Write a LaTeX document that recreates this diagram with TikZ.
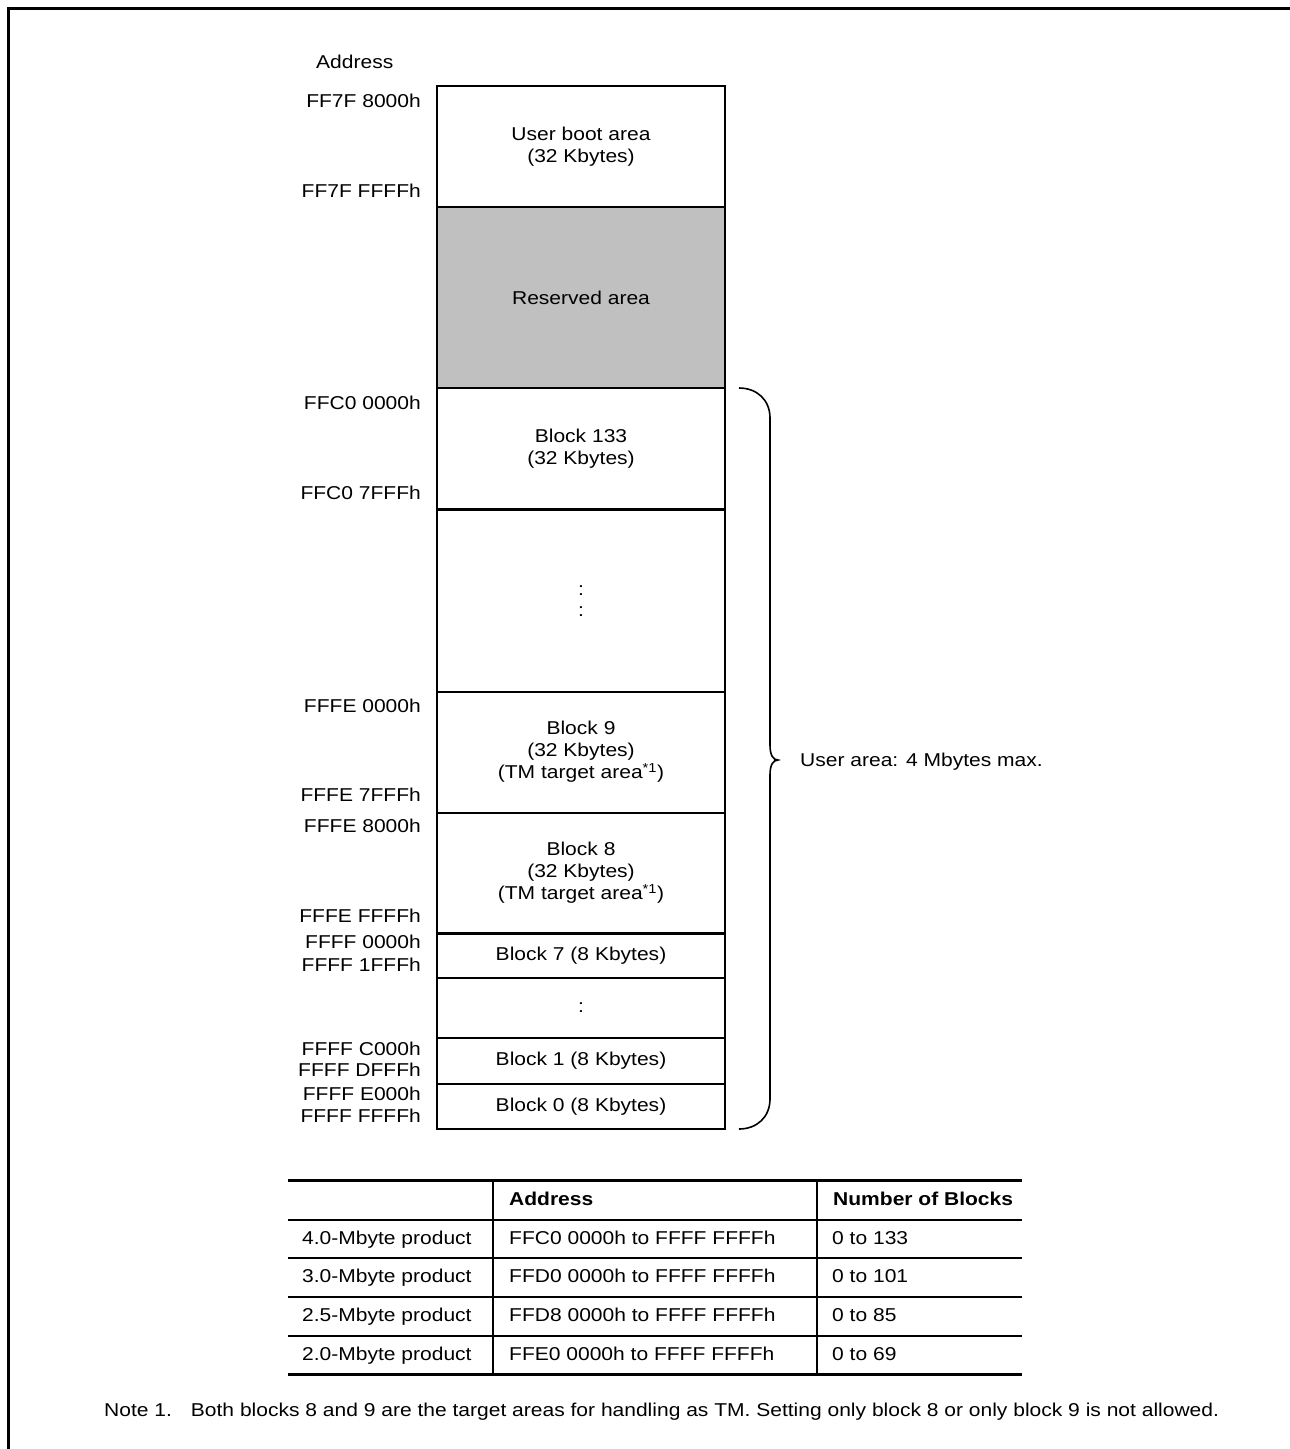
\documentclass[tikz,border=0pt]{standalone}
\usepackage{fontspec}
\setmainfont[FakeStretch=1.13]{Liberation Sans}
\definecolor{resgray}{RGB}{192,192,192}
\begin{document}
\begin{tikzpicture}[x=1pt,y=-1pt,
  every node/.style={font=\fontsize{18.6}{22}\selectfont, inner sep=0pt},
  region/.style={draw, line width=2pt, minimum width=288pt, inner sep=0pt, align=center},
  addr/.style={anchor=base east},
  lbl/.style={anchor=base west},
  hdr/.style={anchor=base west, font=\fontsize{18.6}{22}\selectfont\bfseries},
  rule/.style={line width=1.8pt},
  thickrule/.style={line width=3pt},
  bracestyle/.style={line width=1.6pt}]
\useasboundingbox (0,0) rectangle (1290,1449);
% frame
\draw[line width=3.6pt] (8.5,1460) -- (8.5,8.5) -- (1300,8.5);

% memory map
\node[lbl] (addrhead) at (316,68.7) {Address};
\node[region, minimum height=121pt] (boot) at (581,146.5) {User boot area\\(32 Kbytes)};
\node[region, minimum height=181pt, fill=resgray] (reserved) at (581,297.5) {Reserved area};
\node[region, minimum height=121pt] (b133) at (581,448.5) {Block 133\\(32 Kbytes)};
\node[region, minimum height=181.7pt, font=\fontsize{18.6}{21}\selectfont] (dotsA) at (581,601) {:\\:};
\node[region, minimum height=121pt] (b9) at (581,752) {Block 9\\(32 Kbytes)\\(TM target area\textsuperscript{*1})};
\node[region, minimum height=121pt] (b8) at (581,873) {Block 8\\(32 Kbytes)\\(TM target area\textsuperscript{*1})};
\node[region, minimum height=45.3pt] (b7) at (581,955.35) {Block 7 (8 Kbytes)};
\node[region, minimum height=60pt] (dotsB) at (581,1008) {:};
\node[region, minimum height=46pt] (b1) at (581,1061) {Block 1 (8 Kbytes)};
\node[region, minimum height=45pt] (b0) at (581,1106.5) {Block 0 (8 Kbytes)};

% addresses
\node[addr] (a1) at (421,107.8) {FF7F 8000h};
\node[addr] (a2) at (421,197) {FF7F FFFFh};
\node[addr] (a3) at (421,409.8) {FFC0 0000h};
\node[addr] (a4) at (421,499) {FFC0 7FFFh};
\node[addr] (a5) at (421,712) {FFFE 0000h};
\node[addr] (a6) at (421,801.7) {FFFE 7FFFh};
\node[addr] (a7) at (421,832.7) {FFFE 8000h};
\node[addr] (a8) at (421,922.7) {FFFE FFFFh};
\node[addr] (a9) at (421,948.7) {FFFF 0000h};
\node[addr] (a10) at (421,971.7) {FFFF 1FFFh};
\node[addr] (a11) at (421,1055.7) {FFFF C000h};
\node[addr] (a12) at (421,1076.7) {FFFF DFFFh};
\node[addr] (a13) at (421,1100.7) {FFFF E000h};
\node[addr] (a14) at (421,1122.2) {FFFF FFFFh};

% brace
\draw[bracestyle] (739,388) .. controls (757,388) and (770,400) .. (770,418)
  -- (770,745) .. controls (770,755) and (773,760) .. (778,760)
  .. controls (773,760) and (770,765) .. (770,775)
  -- (770,1099) .. controls (770,1117) and (757,1129) .. (739,1129);
\node[lbl] (userarea) at (800,766.7) {User area: 4 Mbytes max.};

% table
\draw[thickrule] (288,1180.7) -- (1022,1180.7);
\draw[line width=2.5pt] (288,1220) -- (1022,1220);
\draw[rule] (288,1258) -- (1022,1258);
\draw[rule] (288,1297) -- (1022,1297);
\draw[rule] (288,1336) -- (1022,1336);
\draw[thickrule] (288,1374.5) -- (1022,1374.5);
\draw[line width=2pt] (493,1180.7) -- (493,1374.5);
\draw[line width=2pt] (817,1180.7) -- (817,1374.5);

\node[hdr] (hAddr) at (509,1205) {Address};
\node[hdr] (hNum) at (833,1205) {Number of Blocks};

\node[lbl] (r1a) at (302,1244) {4.0-Mbyte product};
\node[lbl] (r1b) at (509,1244) {FFC0 0000h to FFFF FFFFh};
\node[lbl] (r1c) at (832,1244) {0 to 133};
\node[lbl] (r2a) at (302,1282.7) {3.0-Mbyte product};
\node[lbl] (r2b) at (509,1282.7) {FFD0 0000h to FFFF FFFFh};
\node[lbl] (r2c) at (832,1282.7) {0 to 101};
\node[lbl] (r3a) at (302,1321) {2.5-Mbyte product};
\node[lbl] (r3b) at (509,1321) {FFD8 0000h to FFFF FFFFh};
\node[lbl] (r3c) at (832,1321) {0 to 85};
\node[lbl] (r4a) at (302,1360) {2.0-Mbyte product};
\node[lbl] (r4b) at (509,1360) {FFE0 0000h to FFFF FFFFh};
\node[lbl] (r4c) at (832,1360) {0 to 69};

% note
\node[lbl] (note) at (104,1416.5) {Note 1.\hspace{19pt}Both blocks 8 and 9 are the target areas for handling as TM. Setting only block 8 or only block 9 is not allowed.};
\end{tikzpicture}
\end{document}
